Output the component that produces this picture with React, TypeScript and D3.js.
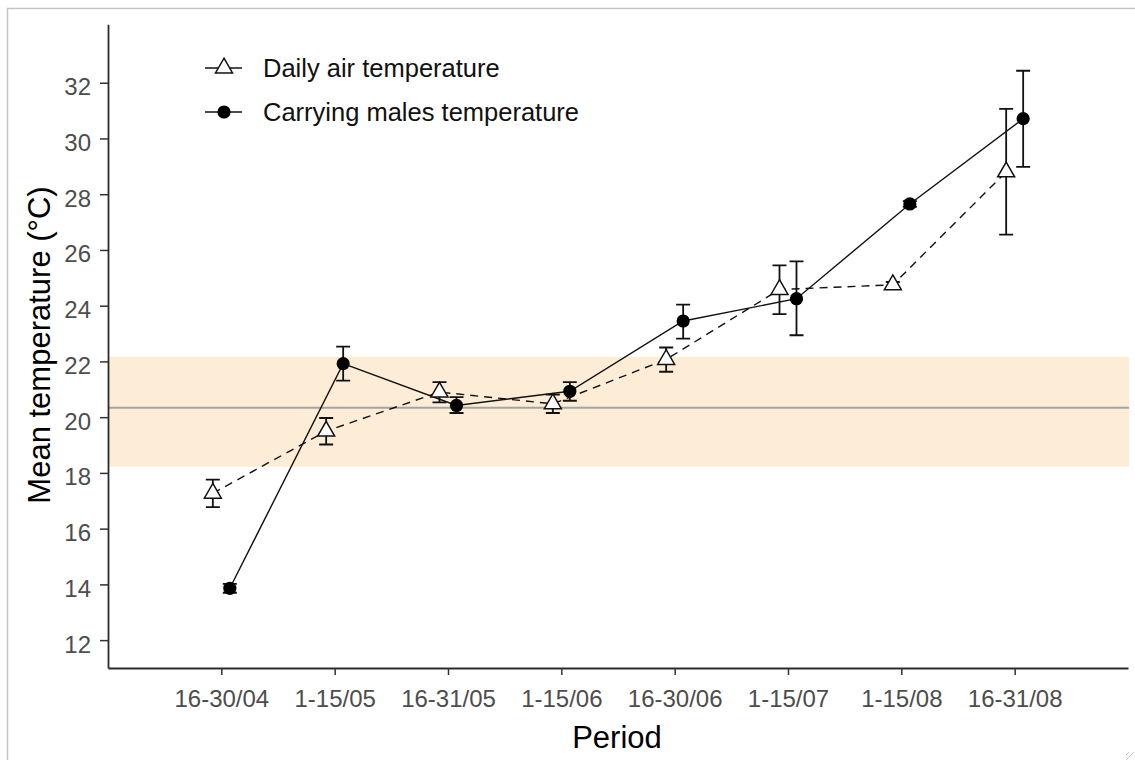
import * as d3 from "d3"
import { useEffect, useRef } from "react"

const periods = ["16-30/04", "1-15/05", "16-31/05", "1-15/06", "16-30/06", "1-15/07", "1-15/08", "16-31/08"]

// daily air temperature (triangles, dashed)
const airMean = [17.27, 19.5, 20.9, 20.48, 22.07, 24.58, 24.75, 28.8]
const airLow = [16.77, 19.02, 20.53, 20.15, 21.63, 23.7, 24.65, 26.55]
const airHigh = [17.76, 19.97, 21.26, 20.81, 22.5, 25.45, 24.85, 31.06]

// carrying males temperature (filled circles, solid)
const maleMean = [13.86, 21.92, 20.42, 20.93, 23.45, 24.25, 27.65, 30.71]
const maleLow = [13.7, 21.31, 20.15, 20.59, 22.82, 22.94, 27.55, 28.98]
const maleHigh = [14.02, 22.53, 20.72, 21.26, 24.04, 25.59, 27.75, 32.43]

const yTicks = [12, 14, 16, 18, 20, 22, 24, 26, 28, 30, 32]
const bandLow = 18.22
const bandHigh = 22.17
const bandLine = 20.34
const legendLabels = ["Daily air temperature", "Carrying males temperature"]

const FONT = "'Liberation Sans', Arial, sans-serif"

export default function App() {
    const svgRef = useRef<SVGSVGElement>(null)

    useEffect(() => {
        const left = 108
        const right = 1128
        const top = 24.2
        const bottom = 668
        const dodge = 8.5

        const svg = d3.select(svgRef.current)
        svg.selectAll("*").remove()

        const x = d3.scaleLinear([0, periods.length + 1], [left, right])
        const y = d3.scaleLinear([11, 34.1], [bottom, top])
        const idx = periods.map((_, i) => i + 1)

        // window frame
        svg.append("rect").attr("width", 1135).attr("height", 760).attr("fill", "#fff")
        svg.append("path")
            .attr("d", "M7.5,770 V8.5 H1140")
            .attr("fill", "none").attr("stroke", "#c4c4c4").attr("stroke-width", 1.5)

        // shaded band + reference line
        svg.append("rect")
            .attr("x", left).attr("width", 1129 - left)
            .attr("y", y(bandHigh)).attr("height", y(bandLow) - y(bandHigh))
            .attr("fill", "#fdedd6")
        svg.append("line")
            .attr("x1", left).attr("x2", 1129)
            .attr("y1", y(bandLine)).attr("y2", y(bandLine))
            .attr("stroke", "#a3a3a3").attr("stroke-width", 2)

        // lines
        const airLine = d3.line<number>().x(i => x(i + 1) - dodge).y(i => y(airMean[i]))
        const maleLine = d3.line<number>().x(i => x(i + 1) + dodge).y(i => y(maleMean[i]))
        svg.append("path").attr("d", airLine(d3.range(periods.length)))
            .attr("fill", "none").attr("stroke", "#111").attr("stroke-width", 1.4)
            .attr("stroke-dasharray", "8,6")
        svg.append("path").attr("d", maleLine(d3.range(periods.length)))
            .attr("fill", "none").attr("stroke", "#111").attr("stroke-width", 1.4)

        // error bars
        const cap = 7
        const errorBars = (lo: number[], hi: number[], off: number) => {
            const g = svg.append("g").attr("stroke", "#111").attr("stroke-width", 1.8).attr("fill", "none")
            g.selectAll("path").data(d3.range(periods.length)).join("path")
                .attr("d", i => {
                    const cx = x(i + 1) + off
                    const y1 = y(hi[i]), y2 = y(lo[i])
                    return `M${cx - cap},${y1}H${cx + cap}M${cx},${y1}V${y2}M${cx - cap},${y2}H${cx + cap}`
                })
        }
        errorBars(airLow, airHigh, -dodge)
        errorBars(maleLow, maleHigh, dodge)

        // markers
        const R = 6.3
        const tri = (cx: number, cy: number) =>
            `M${cx},${cy - 1.555 * R}L${cx + 1.347 * R},${cy + 0.778 * R}L${cx - 1.347 * R},${cy + 0.778 * R}Z`
        svg.append("g").selectAll("path").data(d3.range(periods.length)).join("path")
            .attr("d", i => tri(x(i + 1) - dodge, y(airMean[i])))
            .attr("fill", "#fff").attr("stroke", "#111").attr("stroke-width", 1.5)
        svg.append("g").selectAll("circle").data(d3.range(periods.length)).join("circle")
            .attr("cx", i => x(i + 1) + dodge).attr("cy", i => y(maleMean[i]))
            .attr("r", 6.6).attr("fill", "#000")

        // axes
        const xAxis = svg.append("g")
            .attr("transform", `translate(0,${bottom})`)
            .call(d3.axisBottom(x).tickValues(idx).tickFormat((d) => periods[(d as number) - 1])
                .tickSize(7).tickSizeOuter(0).tickPadding(15))
        const yAxis = svg.append("g")
            .attr("transform", `translate(${left},0)`)
            .call(d3.axisLeft(y).tickValues(yTicks).tickSize(8).tickSizeOuter(0).tickPadding(9))
        yAxis.selectAll("text").attr("dy", "0.5em")
        for (const g of [xAxis, yAxis]) {
            g.select(".domain").attr("stroke", "#2b2b2b").attr("stroke-width", 1.8)
            g.selectAll(".tick line").attr("stroke", "#333").attr("stroke-width", 1.5)
            g.selectAll("text")
                .attr("fill", "#4d4d4d")
                .style("font-family", FONT)
                .style("font-size", "24px")
        }

        // axis titles
        svg.append("text")
            .attr("x", 617).attr("y", 748)
            .attr("text-anchor", "middle")
            .style("font-family", FONT).style("font-size", "31px")
            .attr("fill", "#000")
            .text("Period")
        svg.append("text")
            .attr("transform", `translate(50,345) rotate(-90)`)
            .attr("text-anchor", "middle")
            .style("font-family", FONT).style("font-size", "31px")
            .attr("fill", "#000")
            .text("Mean temperature (°C)")

        // legend
        const legendY = [68, 112]
        const lg = svg.append("g")
        legendY.forEach((ly, i) => {
            lg.append("line").attr("x1", 205).attr("x2", 242).attr("y1", ly).attr("y2", ly)
                .attr("stroke", "#111").attr("stroke-width", 1.4)
            if (i === 0) {
                lg.append("path").attr("d", tri(224, ly)).attr("fill", "#fff")
                    .attr("stroke", "#111").attr("stroke-width", 1.5)
            } else {
                lg.append("circle").attr("cx", 224).attr("cy", ly).attr("r", 6.6).attr("fill", "#000")
            }
            lg.append("text")
                .attr("x", 263).attr("y", ly).attr("dy", "0.36em")
                .style("font-family", FONT).style("font-size", "25.5px")
                .attr("fill", "#111")
                .text(legendLabels[i])
        })

        // resize grip
        svg.append("g").attr("stroke", "#c8c8c8").attr("stroke-width", 1)
            .selectAll("line").data([0, 5]).join("line")
            .attr("x1", d => 1134 - d).attr("y1", 752)
            .attr("x2", 1126).attr("y2", d => 760 - d)
    }, [])

    return <>
        <svg ref={svgRef} width={1135} height={760}
            style={{ position: "absolute", left: 0, top: 0, display: "block" }}></svg>
    </>
}
